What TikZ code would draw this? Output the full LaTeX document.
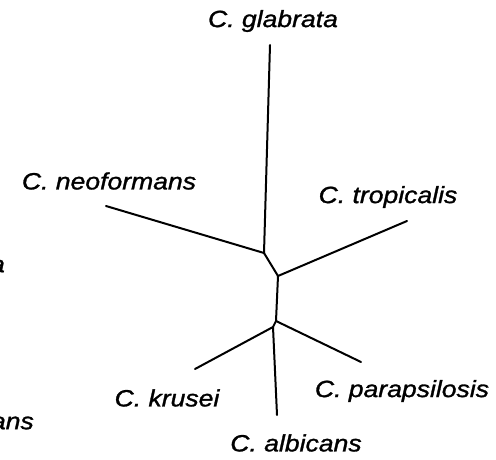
\documentclass[tikz,border=0pt]{standalone}
\usepackage{fontspec}
\newfontfamily\labfont[FakeStretch=1.13,FakeBold=1.2]{Liberation Sans}
\begin{document}
\begin{tikzpicture}[x=1pt,y=-1pt,
  branch/.style={line width=2pt,line cap=round,line join=round},
  taxon/.style={font=\labfont\itshape\fontsize{23.5}{28}\selectfont,inner sep=0pt}]
\useasboundingbox (0,0) rectangle (496,460);
% internal nodes and tips
\coordinate (A) at (264,253);
\coordinate (B) at (278,276);
\coordinate (C) at (276,321);
\coordinate (D) at (273,327);
\coordinate (G) at (270,45);
\coordinate (N) at (106,206);
\coordinate (T) at (407,221);
\coordinate (K) at (195,369);
\coordinate (P) at (361,362);
\coordinate (L) at (277,415);
% branches
\draw[branch] (G) -- (A);
\draw[branch] (N) -- (A);
\draw[branch] (A) -- (B);
\draw[branch] (B) -- (T);
\draw[branch] (B) -- (C);
\draw[branch] (C) -- (P);
\draw[branch] (C) -- (D);
\draw[branch] (D) -- (K);
\draw[branch] (D) -- (L);
% labels
\node[taxon] (lg) at (273,21) {C. glabrata};
\node[taxon] (ln) at (109,181) {C. neoformans};
\node[taxon] (lt) at (388,197) {C. tropicalis};
\node[taxon] (lk) at (167,398) {C. krusei};
\node[taxon] (lp) at (402,391) {C. parapsilosis};
\node[taxon] (la) at (296,443) {C. albicans};
\node[taxon,anchor=east] (fa) at (5,266) {a};
\node[taxon,anchor=east] (fans) at (34,423) {ans};
\end{tikzpicture}
\end{document}
